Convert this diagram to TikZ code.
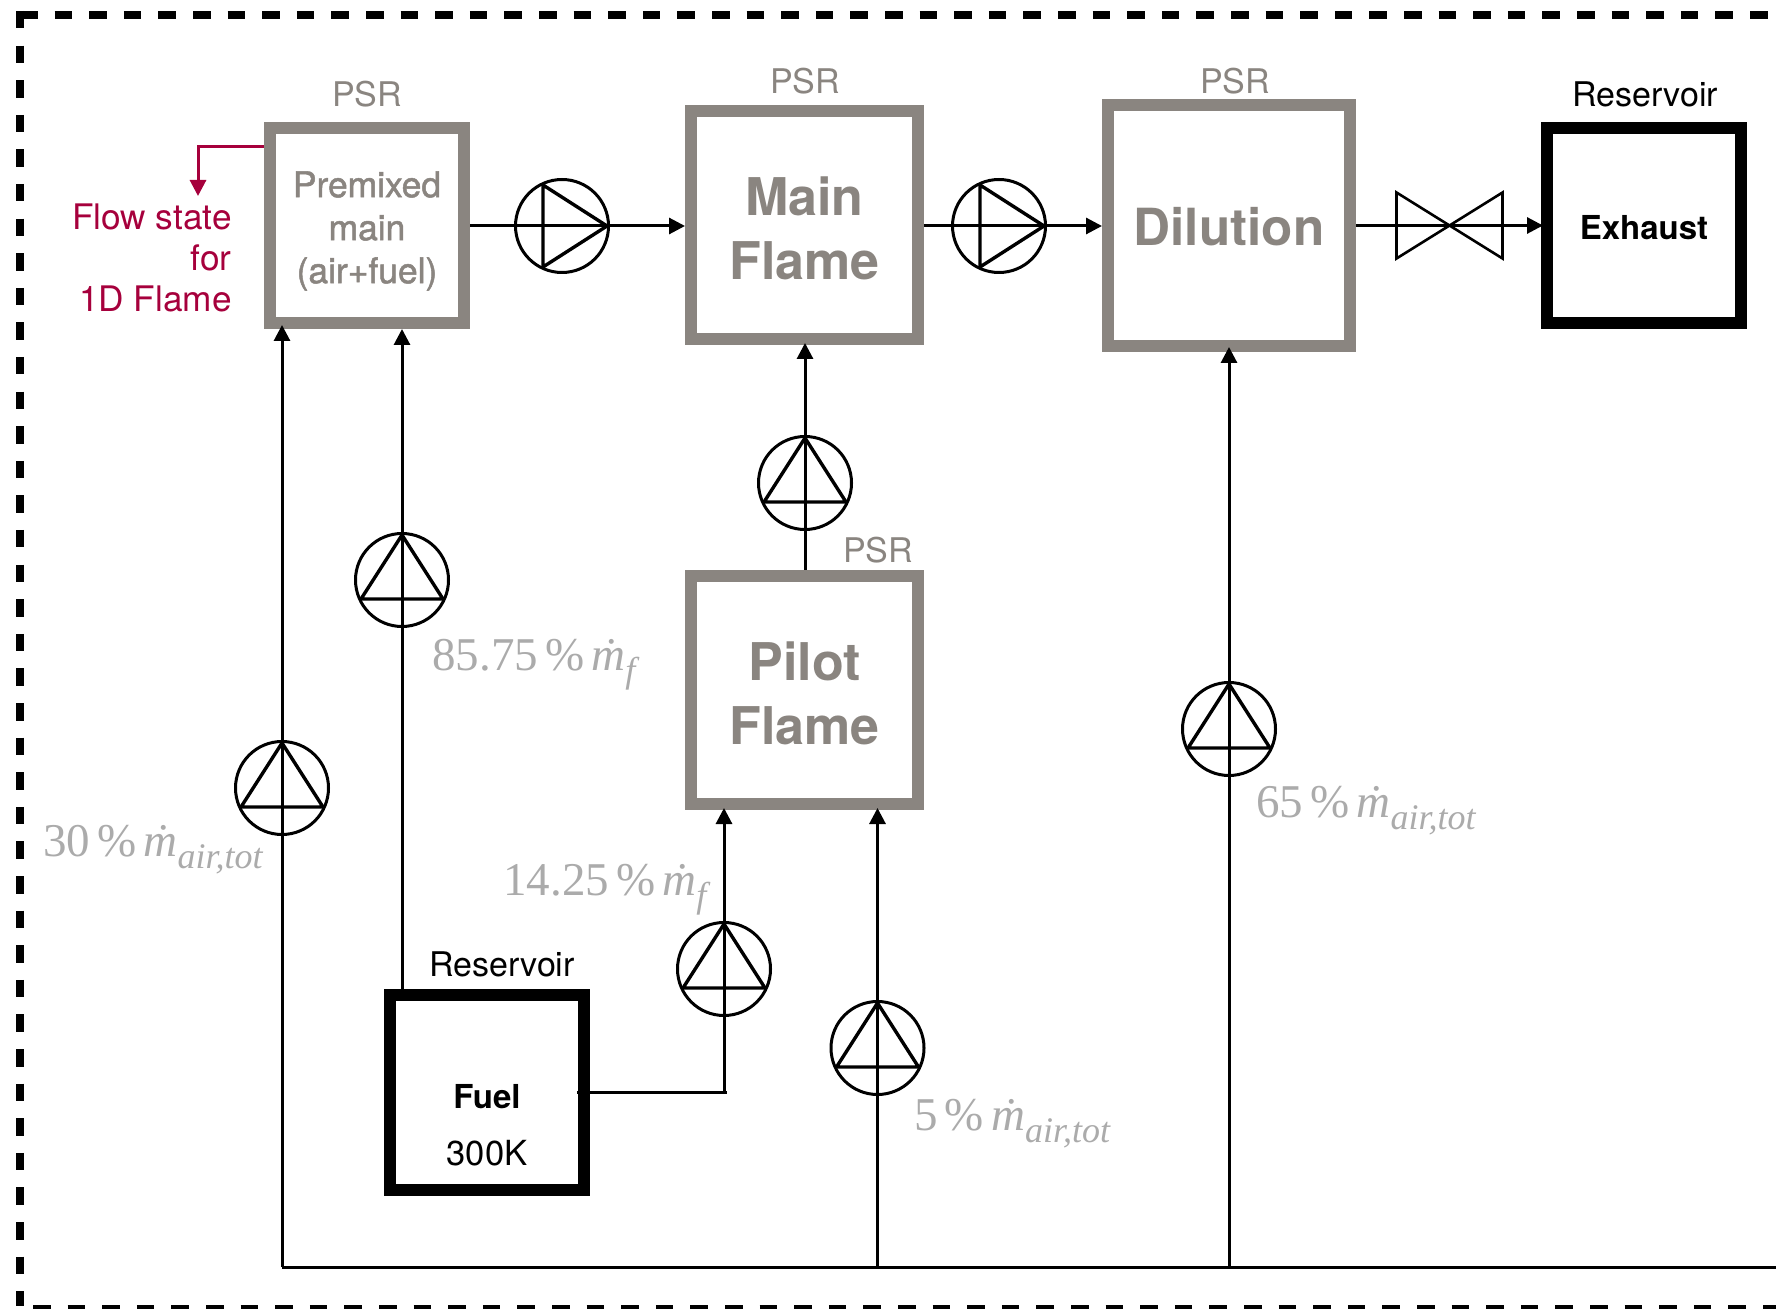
\documentclass[tikz,border=0pt]{standalone}
\usepackage{fontspec}
\setmainfont{TeX Gyre Heros}
\newfontfamily\medfont[FakeBold=1.4]{TeX Gyre Heros}
\newfontfamily\massfont{Liberation Serif}
\usepackage{xcolor}
\usepackage{tikz}
\usetikzlibrary{arrows.meta}

\definecolor{reactorgray}{HTML}{8A8580}
\definecolor{massgray}{HTML}{ABABAB}
\definecolor{flowred}{HTML}{A6003C}

% mass flow label: share, then subscript
\newcommand{\massflow}[2]{{\massfont\fontsize{23.5pt}{25pt}\selectfont #1\hspace{0.15em}\%\hspace{0.15em}\textit{\.m}\raisebox{-6pt}{\fontsize{18pt}{19pt}\selectfont\textit{#2}}}}

\begin{document}
\begin{tikzpicture}[x=0.5pt, y=-0.5pt,
    psr/.style={rectangle, draw=reactorgray, line width=6pt, fill=white, inner sep=0pt},
    reservoir/.style={rectangle, draw=black, line width=6pt, fill=white, inner sep=0pt},
    kind/.style={font=\fontsize{17pt}{20pt}\selectfont, inner sep=0pt},
    bigname/.style={font=\fontsize{26pt}{32pt}\selectfont\bfseries, align=center, inner sep=0pt, text=reactorgray},
    smallname/.style={font=\fontsize{16.5pt}{20pt}\selectfont\bfseries, inner sep=0pt},
    share/.style={anchor=base west, inner sep=0pt, text=massgray},
    pumpbase/.style={circle, draw, line width=1.5pt, minimum size=46.5pt, inner sep=0pt},
    pumpright/.style={pumpbase, path picture={\draw[line width=1.7pt, shift={(path picture bounding box.center)}]
        (-19,-41) -- (-19,41) -- (45,0) -- cycle;}},
    pumpup/.style={pumpbase, path picture={\draw[line width=1.7pt, shift={(path picture bounding box.center)}]
        (0,-45) -- (41,19) -- (-41,19) -- cycle;}},
    conn/.style={line width=1.5pt},
    flow/.style={line width=1.5pt, -{Triangle[length=8pt,width=8pt]}}
]
    \useasboundingbox (0,0) rectangle (1776,1309);

    % Frame
    \draw[line width=3.75pt, dash pattern=on 8.75pt off 8.55pt] (20,15) -- (1776,15);
    \draw[line width=3.75pt, dash pattern=on 8.75pt off 8.55pt] (20,11) -- (20,1306);
    \draw[line width=3.75pt, dash pattern=on 8.75pt off 8.55pt] (33,1309) -- (1776,1309);

    % Reactors
    \node[psr, minimum width=97pt, minimum height=97.5pt] (premixed) at (367,225.5) {};
    \node[psr, minimum width=113.5pt, minimum height=114pt] (mainflame) at (804.5,225) {};
    \node[psr, minimum width=121pt, minimum height=120.5pt] (dilution) at (1229,225.5) {};
    \node[psr, minimum width=113.5pt, minimum height=114pt] (pilot) at (804.5,690) {};
    \node[reservoir, minimum width=97pt, minimum height=97.5pt] (exhaust) at (1644,225.5) {};
    \node[reservoir, minimum width=97pt, minimum height=97.5pt] (fuel) at (487,1092.5) {};

    % Names
    \node[align=center, inner sep=0pt, text=reactorgray, font=\medfont\fontsize{17.7pt}{21.5pt}\selectfont]
        (premixedname) at (367,231) {Premixed\\main\\(air+fuel)};
    \node[bigname] (mainname) at (804.5,228.5) {Main\\Flame};
    \node[bigname, font=\fontsize{25.6pt}{32pt}\selectfont\bfseries] (dilutionname) at (1229,227) {Dilution};
    \node[bigname] (pilotname) at (804.5,693.5) {Pilot\\Flame};
    \node[smallname] (exhaustname) at (1644,228) {Exhaust};
    \node[smallname] (fuelname) at (487,1097) {Fuel};
    \node[font=\fontsize{17.3pt}{20pt}\selectfont, inner sep=0pt] (fueltemp) at (487,1153) {300K};

    % Kind of each box
    \node[kind, text=reactorgray] (kindpremixed) at (367,94) {PSR};
    \node[kind, text=reactorgray] (kindmain) at (805,81.5) {PSR};
    \node[kind, text=reactorgray] (kinddilution) at (1235,81.5) {PSR};
    \node[kind, text=reactorgray] (kindpilot) at (878,550.5) {PSR};
    \node[kind] (kindexhaust) at (1645,94) {Reservoir};
    \node[kind] (kindfuel) at (502,964) {Reservoir};

    % Pumps
    \foreach \pname/\px in {pumpmain/562, pumpdil/999}{
        \node[pumpright] (\pname) at (\px,226) {};
    }
    \foreach \pname/\px/\py in {pumppilot/805/483, pumpprem/402/580, pumpair/282/788,
        pumpfuel/724/969, pumpzone/877.5/1048, pumpdilair/1229/729}{
        \node[pumpup] (\pname) at (\px,\py) {};
    }

    % Valve
    \coordinate (valve) at (1449.5,225.5);
    \draw[line width=1.3pt] ([shift={(-53,-33)}]valve) -- ([shift={(53,33)}]valve)
        -- ([shift={(53,-33)}]valve) -- ([shift={(-53,33)}]valve) -- cycle;

    % Air line
    \coordinate (busleft) at (282,1267);
    \coordinate (busright) at (1776,1267);
    \draw[conn] (busleft) -- (busright);
    \draw[flow] (busleft) -- ([yshift=2pt]premixed.south -| busleft);
    \draw[flow] (busleft -| pumpzone) -- ([yshift=1pt]pilot.south -| pumpzone);
    \draw[flow] (busleft -| dilution) -- ([yshift=2.5pt]dilution.south);

    % Connectors
    \draw[flow] (premixed.east |- pumpmain) -- (mainflame.west |- pumpmain);
    \draw[flow] (mainflame.east |- pumpdil) -- (dilution.west |- pumpdil);
    \draw[flow] (dilution.east |- valve) -- ([xshift=1pt]exhaust.west |- valve);
    \draw[flow] (pilot.north -| pumppilot) -- ([yshift=1pt]mainflame.south -| pumppilot);
    \draw[flow] (fuel.north -| pumpprem) -- (premixed.south -| pumpprem);
    \coordinate (fuelout) at (577,1092);
    \draw[conn] (fuelout) -- (727,1092);
    \draw[flow] (pumpfuel |- fuelout) -- ([yshift=1pt]pilot.south -| pumpfuel);

    % Flow state
    \node[anchor=north east, inner sep=0pt, align=right, text=flowred,
        font=\fontsize{17.6pt}{20.6pt}\selectfont] (flowstate) at (232,203.5) {Flow state\\for\\1D Flame};
    \coordinate (flowout) at (264,147);
    \coordinate (flowtip) at (198,196);
    \draw[line width=1.5pt, draw=flowred, -{Triangle[length=8pt,width=8pt]}, flowred] (flowout) -| (flowtip);

    % Shares
    \node[share] (sharepremair) at (43,856) {\massflow{30}{air,tot}};
    \node[share] (sharepremfuel) at (432,670) {\massflow{85.75}{f}};
    \node[share] (sharepilotfuel) at (503,895) {\massflow{14.25}{f}};
    \node[share] (sharedilair) at (1256,817) {\massflow{65}{air,tot}};
    \node[share] (sharepilotair) at (914,1130) {\massflow{5}{air,tot}};
\end{tikzpicture}
\end{document}
